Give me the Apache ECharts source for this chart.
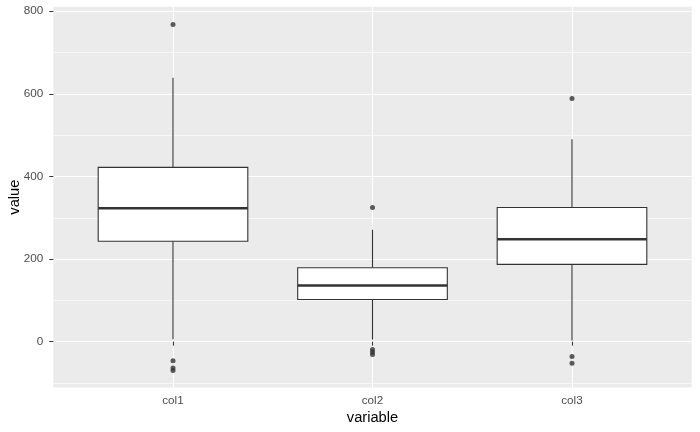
<!DOCTYPE html>
<html>
<head>
<meta charset="utf-8">
<script src="https://cdn.jsdelivr.net/npm/echarts@6/dist/echarts.min.js"></script>
<style>
  html, body { margin: 0; padding: 0; background: #fff; }
  #main { width: 700px; height: 432px; }
</style>
</head>
<body>
<div id="main"></div>
<script>
var categories = ['col1', 'col2', 'col3'];
var whiskerLow = [6, 5, 3];
var q1 = [243, 102, 187];
var median = [323, 136, 248];
var q3 = [422, 179, 325];
var whiskerHigh = [639, 271, 490];
var outlierCat = [1, 1, 1, 1, 2, 2, 2, 2, 3, 3, 3];
var outlierVal = [768, -46, -64, -70, 325, -19, -25, -31, 589, -36, -52];
var majorY = [0, 200, 400, 600, 800];
var minorY = [-100, 100, 300, 500, 700];

var boxData = categories.map(function (c, i) {
  return [i + 1, whiskerLow[i], q1[i], median[i], q3[i], whiskerHigh[i]];
});
var outData = outlierCat.map(function (c, i) { return [c, outlierVal[i]]; });

function renderBox(params, api) {
  var x = api.value(0);
  var lo = api.coord([x, api.value(1)]);
  var b1 = api.coord([x, api.value(2)]);
  var md = api.coord([x, api.value(3)]);
  var b3 = api.coord([x, api.value(4)]);
  var hi = api.coord([x, api.value(5)]);
  var left = api.coord([x - 0.375, 0])[0];
  var right = api.coord([x + 0.375, 0])[0];
  var st = { stroke: '#333333', lineWidth: 1.1, fill: null };
  return {
    type: 'group',
    children: [
      { type: 'line', shape: { x1: lo[0], y1: lo[1], x2: b1[0], y2: b1[1] }, style: st },
      { type: 'line', shape: { x1: b3[0], y1: b3[1], x2: hi[0], y2: hi[1] }, style: st },
      { type: 'rect', shape: { x: left, y: b3[1], width: right - left, height: b1[1] - b3[1] },
        style: { fill: '#ffffff', stroke: '#333333', lineWidth: 1.1 } },
      { type: 'line', shape: { x1: left, y1: md[1], x2: right, y2: md[1] },
        style: { stroke: '#333333', lineWidth: 2.3 } }
    ]
  };
}

var chart = echarts.init(document.getElementById('main'));
chart.setOption({
  animation: false,
  textStyle: { fontFamily: 'Liberation Sans, Arial, sans-serif' },
  grid: { left: 53.3, right: 8.3, top: 6.7, bottom: 44.5, containLabel: false, outerBoundsMode: 'none',
    show: true, backgroundColor: '#EBEBEB', borderWidth: 0 },
  xAxis: {
    type: 'value', min: 0.4, max: 3.6,
    name: 'variable', nameLocation: 'middle', nameGap: 23, nameMoveOverlap: false,
    nameTextStyle: { color: '#000000', fontSize: 14.7 },
    axisLine: { show: false },
    axisTick: { show: true, length: 4, customValues: [1, 2, 3], lineStyle: { color: '#333333', width: 1 } },
    axisLabel: { customValues: [1, 2, 3], color: '#4D4D4D', fontSize: 11.7, margin: 7,
      formatter: function (v) { return categories[Math.round(v) - 1]; } },
    splitLine: { show: true, lineStyle: { color: '#ffffff', width: 1.1 } }
  },
  yAxis: [{
    type: 'value', min: -111, max: 811,
    name: 'value', nameLocation: 'middle', nameGap: 31, nameRotate: 90, nameMoveOverlap: false,
    nameTextStyle: { color: '#000000', fontSize: 14.7 },
    axisLine: { show: false },
    axisTick: { show: true, length: 4, customValues: majorY, lineStyle: { color: '#333333', width: 1 } },
    axisLabel: { customValues: majorY, color: '#4D4D4D', fontSize: 11.7, margin: 10 },
    splitLine: { show: true, lineStyle: { color: '#ffffff', width: 1.1 } }
  }, {
    type: 'value', min: -111, max: 811, position: 'left',
    axisLine: { show: false },
    axisTick: { show: false, customValues: minorY },
    axisLabel: { show: false, customValues: minorY },
    splitLine: { show: true, lineStyle: { color: '#ffffff', width: 0.6 } }
  }],
  series: [{
    type: 'custom',
    renderItem: renderBox,
    data: boxData,
    encode: { x: 0, y: [1, 2, 3, 4, 5] },
    z: 2
  }, {
    type: 'scatter',
    data: outData,
    symbolSize: 5,
    itemStyle: { color: '#333333' },
    z: 3
  }]
});
</script>
</body>
</html>
